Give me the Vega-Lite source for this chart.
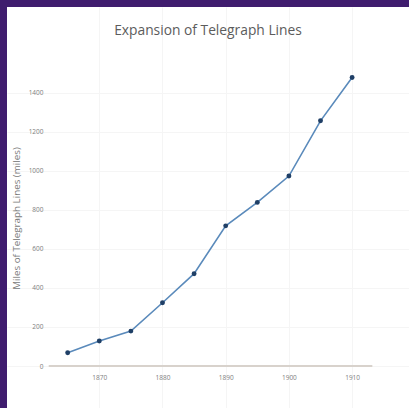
{
  "$schema": "https://vega.github.io/schema/vega-lite/v6.json",
  "autosize": {"type": "none"},
  "padding": {"left": 7, "top": 7, "right": 0, "bottom": 0},
  "width": 402,
  "height": 401,
  "background": "#3f1c6e",
  "title": {
    "text": "Expansion of Telegraph Lines",
    "offset": -31,
    "anchor": "middle",
    "frame": "group",
    "font": "Open Sans",
    "fontSize": 13.8,
    "fontWeight": "normal",
    "color": "#5c5c5c"
  },
  "config": {
    "view": {"fill": "white", "stroke": null},
    "font": "Open Sans"
  },
  "layer": [
    {
      "data": {"values": [{"from": 1862, "to": 1913.2, "miles": 0}]},
      "mark": {"type": "rule", "color": "#d8d2cc", "strokeWidth": 2},
      "encoding": {
        "x": {"field": "from", "type": "quantitative"},
        "x2": {"field": "to"},
        "y": {"field": "miles", "type": "quantitative"}
      }
    },
    {
      "data": {
        "values": [
          {"year": 1865, "miles": 68},
          {"year": 1870, "miles": 128},
          {"year": 1875, "miles": 179},
          {"year": 1880, "miles": 324},
          {"year": 1885, "miles": 473},
          {"year": 1890, "miles": 718},
          {"year": 1895, "miles": 838},
          {"year": 1900, "miles": 973},
          {"year": 1905, "miles": 1256},
          {"year": 1910, "miles": 1478}
        ]
      },
      "mark": {
        "type": "line",
        "color": "#5a8abb",
        "strokeWidth": 1.6,
        "point": {"filled": true, "color": "#1f3f66", "size": 24}
      },
      "encoding": {
        "x": {
          "field": "year",
          "type": "quantitative",
          "scale": {"domain": [1855.4, 1919], "nice": false, "zero": false},
          "axis": {
            "values": [1870, 1880, 1890, 1900, 1910],
            "format": "d",
            "offset": -42,
            "domain": false,
            "ticks": false,
            "labelPadding": 8,
            "labelFontSize": 6.5,
            "labelColor": "#808080",
            "grid": true,
            "gridColor": "#f5f5f5",
            "title": null
          }
        },
        "y": {
          "field": "miles",
          "type": "quantitative",
          "scale": {"domain": [-215, 1839], "nice": false, "zero": false},
          "axis": {
            "values": [0, 200, 400, 600, 800, 1000, 1200, 1400],
            "format": "d",
            "offset": -40,
            "domain": false,
            "ticks": false,
            "labelPadding": 4,
            "labelFontSize": 6.5,
            "labelColor": "#808080",
            "grid": true,
            "gridColor": "#f5f5f5",
            "title": "Miles of Telegraph Lines (miles)",
            "titleFontSize": 9.8,
            "titleFontWeight": "normal",
            "titleColor": "#7a7a7a",
            "titleX": -31,
            "titleY": 211,
            "titleAngle": -90,
            "titleBaseline": "middle",
            "titleAlign": "center"
          }
        }
      }
    }
  ]
}
